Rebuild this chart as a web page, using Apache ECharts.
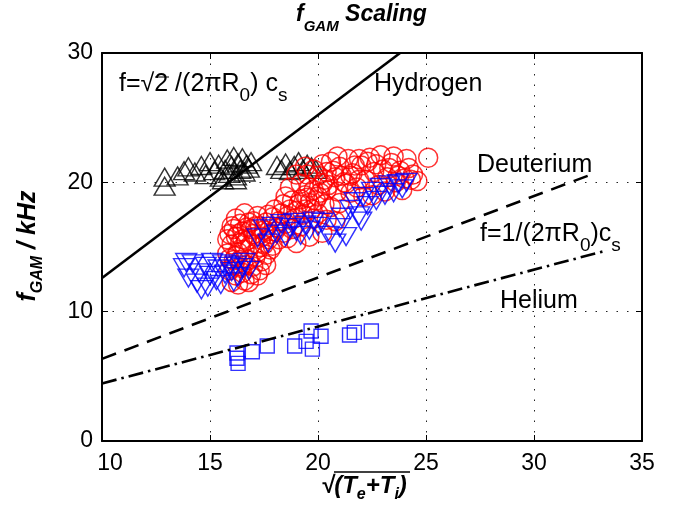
<!DOCTYPE html>
<html><head><meta charset="utf-8">
<script src="https://cdn.jsdelivr.net/npm/echarts/dist/echarts.min.js"></script>
<style>html,body{margin:0;padding:0;background:#fff}#c{width:679px;height:522px}</style>
</head><body><div id="c"></div>
<script>
// ---- data ----
const xRange = [10, 35];
const yRange = [0, 30];
const xStep = 5;
const yStep = 10;

const hydrogenLine = [[10, 12.6], [23.8, 30]];
const deuteriumLine = [[10, 6.35], [32.8, 20.7]];
const heliumLine = [[10, 4.45], [33.3, 14.7]];

const blackTriangles = [
  [12.9,19.7],[12.9,20.4],[13.5,20.5],[13.8,20.9],[14.0,21.2],[14.3,20.8],[14.6,21.3],[14.8,20.6],
  [15.0,21.6],[15.2,20.9],[15.4,21.4],[15.5,20.4],[15.7,21.0],[15.8,21.8],[15.9,20.7],[16.0,21.3],
  [16.1,22.0],[16.2,20.5],[16.3,21.5],[16.4,21.0],[16.5,21.9],[16.6,20.8],[16.7,21.4],[16.8,21.1],
  [16.2,20.2],[15.6,20.2],[16.9,21.6],[18.3,21.0],[18.5,21.5],[18.7,20.9],[18.9,21.3],[19.1,21.6],
  [19.3,21.0],[19.5,21.4],[19.7,21.2],[19.9,21.0],[18.1,21.3]
];

const redCircles = [
  [16.0,12.3],[16.2,12.8],[16.4,13.4],[16.1,14.0],[16.3,14.6],[16.0,15.2],[16.2,15.8],[16.5,16.2],
  [16.7,15.5],[16.9,16.4],[16.6,14.8],[16.8,14.0],[17.0,13.5],[16.5,13.0],[17.2,14.6],[17.1,15.8],
  [17.3,16.6],[17.5,15.2],[17.6,16.9],[17.8,16.0],[17.4,13.9],[17.0,17.0],[16.4,16.8],[15.9,16.0],
  [15.8,14.5],[17.9,17.3],[18.1,16.5],[18.3,17.6],[18.5,16.8],[18.2,15.6],
  [18.7,17.9],[18.9,17.2],[19.1,18.3],[19.3,17.5],[19.5,18.8],[19.7,17.9],[19.9,18.6],[20.1,19.2],
  [19.6,19.6],[20.3,18.3],[20.5,19.8],[19.2,19.9],[20.0,20.5],[19.8,21.0],[20.2,21.4],[20.4,20.8],
  [20.6,21.6],[19.5,20.6],
  [20.8,20.4],[21.0,21.2],[21.2,20.0],[21.4,21.8],[21.6,20.7],[21.8,19.6],[22.0,21.3],[22.2,20.2],
  [22.4,21.9],[22.6,20.8],[22.8,19.8],[23.0,21.0],[23.2,20.4],[23.4,21.5],[23.6,20.0],[23.8,20.9],
  [24.0,20.3],[24.2,21.1],[24.4,20.6],[21.5,19.2],[22.1,18.9],[25.1,21.9],
  [15.9,13.2],[16.1,13.6],[16.3,12.1],[16.6,12.4],[16.9,12.9],[17.1,14.2],[16.7,13.6],[16.4,15.3],
  [16.8,16.9],[17.2,17.4],[17.0,16.0],[16.2,17.2],[17.4,15.8],[17.3,13.2],[17.6,14.4],[17.7,15.6],
  [15.8,15.6],[16.6,17.6],[17.9,15.1],[18.0,17.9],[18.4,18.3],[18.6,15.7],[18.8,18.6],[19.0,15.3],
  [19.2,16.6],[19.4,19.0],[19.6,15.8],[19.8,17.2],[20.0,17.6],[20.2,16.1],[20.4,17.1],[20.6,18.1],
  [20.8,17.0],[21.0,18.4],[20.9,19.3],[21.3,19.9],[21.7,21.3],[22.3,21.6],[22.9,22.1],[23.5,22.0],
  [24.1,21.8],[24.6,20.1],[23.9,19.4],[23.1,19.3],[22.5,19.0],[21.9,20.2],[19.0,20.6],[18.7,19.6],
  [19.4,21.2],[20.9,22.0],
  [15.9,14.1],[16.0,16.6],[16.2,14.3],[16.4,14.0],[16.5,15.6],[16.7,16.5],[16.9,15.2],[17.1,16.6],
  [17.3,15.0],[17.5,16.3],[17.7,17.5],[16.3,16.0],[16.8,12.3],[17.2,12.8],[16.1,16.4],[17.6,13.6],
  [17.8,14.8],[18.0,16.2],[18.2,17.0],[18.4,16.1],[18.6,17.4],[18.8,16.4],[19.0,17.8],[19.2,18.7],
  [19.4,17.9],[19.6,18.4],[19.8,19.4],[20.0,18.9],[20.2,19.9],[20.4,19.4],[20.7,20.9],[21.1,20.5],
  [21.5,20.5],[21.9,21.8],[22.7,21.4],[23.3,21.1],[23.7,20.5],[24.3,20.2],[20.3,20.2],[18.5,18.9]
];

const blueTriangles = [
  [13.8,13.4],[14.0,12.6],[14.2,13.7],[14.4,12.2],[14.5,13.0],[14.6,11.7],[14.8,13.5],[15.0,12.8],
  [15.1,13.8],[15.3,12.4],[15.4,13.3],[15.6,13.7],[15.7,12.9],[15.9,13.5],[16.0,13.1],[16.2,13.6],
  [16.3,12.7],[16.5,13.4],[16.6,13.8],[14.9,11.9],[15.5,12.1],[16.1,12.3],[13.9,13.8],[16.8,13.2],
  [17.2,15.7],[17.5,16.4],[17.7,15.3],[17.9,16.6],[18.1,16.0],[18.3,16.8],[18.5,15.8],[18.7,16.5],
  [18.9,16.9],[19.0,16.2],[19.2,15.9],[19.4,16.7],[19.6,16.3],[19.8,17.0],[20.0,16.6],[20.2,16.9],
  [20.5,15.9],[20.8,15.3],[21.0,16.5],[21.1,17.3],[21.3,15.8],[21.5,17.9],[21.7,18.5],[21.9,17.4],
  [22.1,18.9],[22.3,18.2],[22.5,19.3],[22.7,18.6],[22.9,19.6],[23.1,19.0],[23.3,19.8],[23.5,19.2],
  [23.7,19.9],[23.9,19.5],[24.1,20.0],[22.0,17.0]
];

const blueSquares = [
  [16.25,6.8],[16.25,6.4],[16.3,6.0],[16.96,6.9],[17.65,7.35],[18.92,7.35],[19.45,7.7],[19.68,8.5],
  [20.14,8.1],[19.74,7.1],[21.46,8.2],[21.68,8.4],[22.47,8.5]
];

const titleParts = ['f', 'GAM', ' Scaling'];
const yNameParts = ['f', 'GAM', ' / kHz'];
const xNameParts = ['√(T', 'e', '+T', 'i', ')'];
const annotations = {
  hydrogenFormula: ['f=√2 /(2πR', '0', ') c', 's'],
  hydrogen: 'Hydrogen',
  deuterium: 'Deuterium',
  deutFormula: ['f=1/(2πR', '0', ')c', 's'],
  helium: 'Helium'
};

// ---- chart ----
const FF = 'Liberation Sans, Arial, Helvetica, sans-serif';
function boldRich(F, S, pad) {
  return {
    m: {fontSize: F, fontWeight: 'bold', fontStyle: 'italic', fontFamily: FF, color: '#000', verticalAlign: 'top', lineHeight: F + 2},
    s: {fontSize: S, fontWeight: 'bold', fontStyle: 'italic', fontFamily: FF, color: '#000', verticalAlign: 'top', lineHeight: S, padding: [pad, 0, 0, 0]}
  };
}
const normRich = {
  m: {fontSize: 25, fontFamily: FF, color: '#000', verticalAlign: 'top', lineHeight: 27},
  s: {fontSize: 19, fontFamily: FF, color: '#000', verticalAlign: 'top', lineHeight: 19, padding: [14, 0, 0, 0]}
};
function rt(parts) {
  return parts.map((p, i) => '{' + (i % 2 ? 's' : 'm') + '|' + p + '}').join('');
}

const chart = echarts.init(document.getElementById('c'), null, {renderer: 'canvas'});

const gridSplit = {show: true, lineStyle: {color: '#222', width: 1, type: [1.5, 9]}};
const tickStyle = {show: true, inside: true, length: 6, lineStyle: {color: '#000', width: 1}};
const lineAxis = {show: true, onZero: false, lineStyle: {color: '#000', width: 2}};

function scatter(name, data, symbol, size, color, rotate, bw) {
  return {
    name, type: 'scatter', data, symbol, symbolSize: size, symbolRotate: rotate || 0,
    itemStyle: {color: 'rgba(0,0,0,0)', borderColor: color, borderWidth: bw || 1.4},
    emphasis: {disabled: true}, silent: true, z: 3, large: false
  };
}
function refLine(name, data, type) {
  return {
    name, type: 'line', data, showSymbol: false, symbol: 'none',
    lineStyle: {color: '#000', width: 2.6, type}, z: 4, silent: true, clip: true
  };
}

chart.setOption({
  animation: false,
  backgroundColor: '#fff',
  grid: {left: 102, top: 53, width: 540, height: 388, containLabel: false},
  xAxis: [
    {type: 'value', min: xRange[0], max: xRange[1], interval: xStep, position: 'bottom',
     axisLine: lineAxis, axisTick: tickStyle, splitLine: gridSplit,
     axisLabel: {color: '#000', fontSize: 23, fontFamily: FF, margin: 11,
       formatter: v => v === xRange[0] ? '{p|' + v + '}' : String(v),
       rich: {p: {fontSize: 23, fontFamily: FF, color: '#000', padding: [0, 0, 0, 16]}}}},
    {type: 'value', min: xRange[0], max: xRange[1], interval: xStep, position: 'top',
     axisLine: lineAxis, axisTick: tickStyle, splitLine: {show: false}, axisLabel: {show: false}}
  ],
  yAxis: [
    {type: 'value', min: yRange[0], max: yRange[1], interval: yStep, position: 'left',
     axisLine: lineAxis, axisTick: tickStyle, splitLine: gridSplit,
     axisLabel: {color: '#000', fontSize: 23, fontFamily: FF, margin: 9}},
    {type: 'value', min: yRange[0], max: yRange[1], interval: yStep, position: 'right',
     axisLine: lineAxis, axisTick: tickStyle, splitLine: {show: false}, axisLabel: {show: false}}
  ],
  series: [
    scatter('H', blackTriangles, 'triangle', [21, 18], '#000'),
    scatter('D', redCircles, 'circle', 19, '#ff0000', 0, 1.5),
    scatter('Dt', blueTriangles, 'triangle', [21, 18], '#0000ff', 180),
    scatter('He', blueSquares, 'rect', 14, '#0000ff'),
    refLine('hyd', hydrogenLine, 'solid'),
    refLine('deut', deuteriumLine, [15, 9]),
    refLine('hel', heliumLine, [15, 5, 2.5, 5])
  ],
  graphic: [
    {type: 'text', left: 296, top: 3, style: {text: rt(titleParts), rich: boldRich(23, 15, 16)}},
    {type: 'text', x: 29, y: 246, rotation: Math.PI / 2,
     style: {text: rt(yNameParts), rich: boldRich(25, 16, 14), align: 'center', verticalAlign: 'middle'}},
    {type: 'text', left: 321, top: 474, style: {text: rt(xNameParts), rich: boldRich(24, 16, 13)}},
    {type: 'line', shape: {x1: 334, y1: 472, x2: 410, y2: 472}, style: {stroke: '#000', lineWidth: 1.3}},
    {type: 'text', left: 119, top: 72, style: {text: rt(annotations.hydrogenFormula), rich: normRich}},
    {type: 'line', shape: {x1: 155, y1: 77, x2: 169, y2: 77}, style: {stroke: '#000', lineWidth: 1}},
    {type: 'text', left: 374, top: 72, style: {text: annotations.hydrogen, font: '25px ' + FF, fill: '#000'}},
    {type: 'text', left: 477, top: 153, style: {text: annotations.deuterium, font: '25px ' + FF, fill: '#000'}},
    {type: 'text', left: 480, top: 222, style: {text: rt(annotations.deutFormula), rich: normRich}},
    {type: 'text', left: 500, top: 289, style: {text: annotations.helium, font: '25px ' + FF, fill: '#000'}}
  ]
});
</script></body></html>
